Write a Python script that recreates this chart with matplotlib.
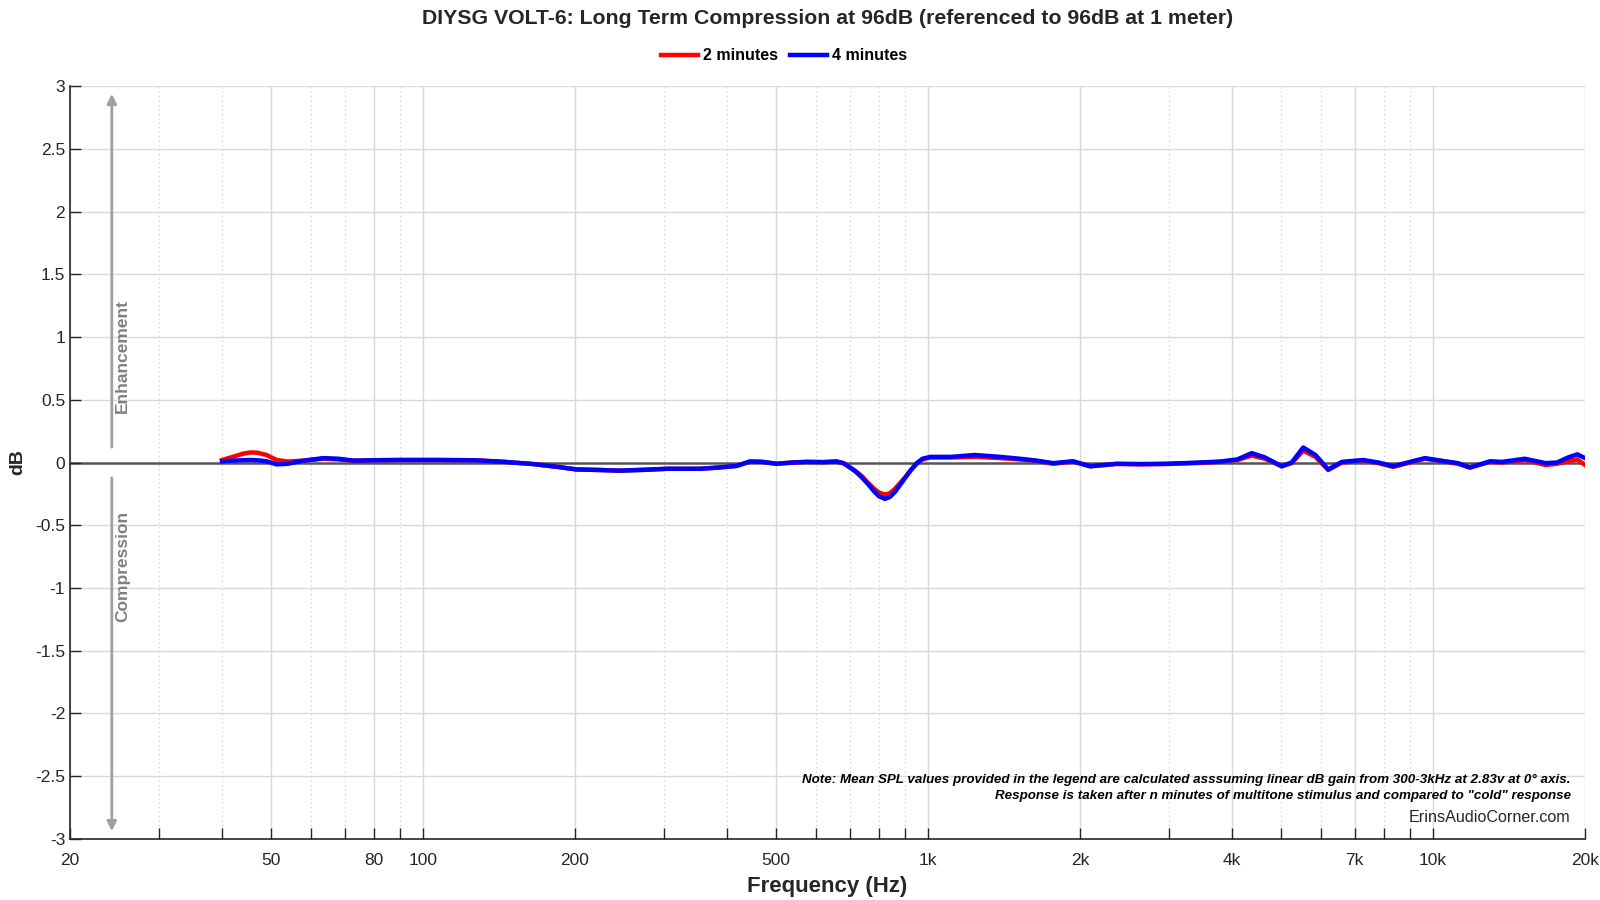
import matplotlib
matplotlib.use("Agg")
import matplotlib.pyplot as plt
from matplotlib.ticker import FixedLocator, NullFormatter

plt.rcParams['font.family'] = ['Liberation Sans', 'DejaVu Sans']

# data
freq = [40, 42, 44, 45.5, 47, 49, 51.3, 54, 58, 63.5, 68, 73, 80, 90, 105, 126,
        145, 165, 185, 201, 225, 245, 275, 304, 330, 354, 385, 418, 444, 470,
        501, 540, 575, 620, 659, 680, 701, 720, 740, 760, 780, 800, 822, 840,
        860, 880, 900, 925, 950, 975, 1010, 1110, 1239, 1389, 1520, 1641, 1770,
        1937, 2093, 2364, 2650, 2970, 3457, 3800, 4100, 4376, 4650, 5016, 5250,
        5534, 5850, 6201, 6600, 7267, 7800, 8340, 9000, 9640, 10470, 11200,
        11830, 12970, 13700, 15200, 16700, 17600, 18500, 19300, 20000]

db_2min = [0.02, 0.045, 0.07, 0.08, 0.078, 0.06, 0.02, 0.008, 0.015, 0.03, 0.025,
           0.013, 0.018, 0.02, 0.02, 0.018, 0.005, -0.012, -0.035, -0.055, -0.06,
           -0.065, -0.058, -0.05, -0.05, -0.05, -0.04, -0.027, 0.008, 0.005,
           -0.01, 0.0, 0.005, 0.003, 0.008, -0.005, -0.04, -0.07, -0.11, -0.16,
           -0.205, -0.24, -0.255, -0.245, -0.21, -0.165, -0.12, -0.06, -0.01,
           0.025, 0.04, 0.04, 0.045, 0.035, 0.025, 0.012, -0.01, 0.008, -0.03,
           -0.012, -0.015, -0.012, -0.003, 0.005, 0.02, 0.055, 0.03, -0.03,
           -0.005, 0.095, 0.045, -0.06, 0.0, 0.015, -0.005, -0.035, 0.0, 0.03,
           0.01, -0.01, -0.04, 0.005, 0.0, 0.02, -0.02, -0.01, 0.01, 0.025, -0.02]

db_4min = [0.01, 0.015, 0.018, 0.02, 0.018, 0.01, -0.015, -0.01, 0.015, 0.035, 0.03,
           0.015, 0.018, 0.02, 0.02, 0.018, 0.005, -0.012, -0.035, -0.055, -0.06,
           -0.065, -0.058, -0.05, -0.05, -0.05, -0.04, -0.027, 0.008, 0.005,
           -0.01, 0.0, 0.005, 0.003, 0.008, -0.005, -0.04, -0.075, -0.12, -0.17,
           -0.225, -0.27, -0.29, -0.275, -0.235, -0.18, -0.125, -0.06, -0.005,
           0.03, 0.045, 0.045, 0.06, 0.045, 0.03, 0.015, -0.005, 0.01, -0.03,
           -0.01, -0.012, -0.01, 0.0, 0.008, 0.025, 0.075, 0.04, -0.03, 0.0,
           0.12, 0.06, -0.055, 0.005, 0.02, 0.0, -0.03, 0.005, 0.035, 0.012,
           -0.005, -0.04, 0.01, 0.005, 0.03, -0.005, 0.0, 0.04, 0.065, 0.035]

major_ticks = [20, 50, 80, 100, 200, 500, 1000, 2000, 4000, 7000, 10000, 20000]
major_labels = ['20', '50', '80', '100', '200', '500', '1k', '2k', '4k', '7k', '10k', '20k']
minor_ticks = [30, 40, 60, 70, 90, 300, 400, 600, 700, 800, 900,
               3000, 5000, 6000, 8000, 9000]
y_ticks = [-3, -2.5, -2, -1.5, -1, -0.5, 0, 0.5, 1, 1.5, 2, 2.5, 3]
y_labels = ['-3', '-2.5', '-2', '-1.5', '-1', '-0.5', '0', '0.5', '1', '1.5', '2', '2.5', '3']


def main():
    fig = plt.figure(figsize=(16, 9), dpi=100)
    ax = fig.add_axes([0.04375, 0.0678, 0.9469, 0.8366])

    ax.set_xscale('log')
    ax.set_xlim(20, 20000)
    ax.set_ylim(-3, 3)

    # grid: solid at labelled ticks, dotted at the rest
    for f in major_ticks:
        ax.axvline(f, color='#d9d9d9', lw=1, zorder=0)
    for f in minor_ticks:
        ax.axvline(f, color='#c8c8c8', lw=0.8, ls=(0, (1, 3)), zorder=0)
    for y in y_ticks:
        if y != 0:
            ax.axhline(y, color='#d9d9d9', lw=1, zorder=0)
    ax.axhline(0, color='#555555', lw=1.8, zorder=1)

    ax.plot(freq, db_2min, color='#ff0000', lw=3.2, label='2 minutes', zorder=3)
    ax.plot(freq, db_4min, color='#0000ff', lw=3.2, label='4 minutes', zorder=4)

    ax.xaxis.set_major_locator(FixedLocator(major_ticks))
    ax.set_xticklabels(major_labels)
    ax.xaxis.set_minor_locator(FixedLocator(minor_ticks))
    ax.xaxis.set_minor_formatter(NullFormatter())
    ax.set_yticks(y_ticks)
    ax.set_yticklabels(y_labels)
    ax.tick_params(which='both', direction='in', length=8, width=1,
                   labelsize=12.5, colors='#262626', top=False, right=False)
    ax.tick_params(axis='x', pad=10)

    for side in ['top', 'right']:
        ax.spines[side].set_visible(False)
    for side in ['left', 'bottom']:
        ax.spines[side].set_color('#262626')
        ax.spines[side].set_linewidth(1.2)

    ax.set_xlabel('Frequency (Hz)', fontsize=16, fontweight='bold', color='#262626', labelpad=6)
    ax.set_ylabel('dB', fontsize=14, fontweight='bold', color='#262626', labelpad=6)

    # enhancement / compression arrows
    ax.annotate('', xy=(24.2, 2.96), xytext=(24.2, 0.1),
                arrowprops=dict(arrowstyle='-|>', color='#a0a0a0', lw=2, mutation_scale=14))
    ax.annotate('', xy=(24.2, -2.96), xytext=(24.2, -0.1),
                arrowprops=dict(arrowstyle='-|>', color='#a0a0a0', lw=2, mutation_scale=14))
    ax.text(25.4, 0.85, 'Enhancement', rotation=90, ha='center', va='center',
            fontsize=12.5, fontweight='bold', color='#808080')
    ax.text(25.4, -0.83, 'Compression', rotation=90, ha='center', va='center',
            fontsize=12.5, fontweight='bold', color='#808080')

    ax.text(0.9905, 0.079, 'Note: Mean SPL values provided in the legend are calculated asssuming linear dB gain from 300-3kHz at 2.83v at 0\u00b0 axis.',
            transform=ax.transAxes, ha='right', va='center', fontsize=9.6,
            fontweight='bold', style='italic', color='black')
    ax.text(0.9905, 0.057, 'Response is taken after n minutes of multitone stimulus and compared to "cold" response',
            transform=ax.transAxes, ha='right', va='center', fontsize=9.6,
            fontweight='bold', style='italic', color='black')
    ax.text(0.9905, 0.028, 'ErinsAudioCorner.com', transform=ax.transAxes,
            ha='right', va='center', fontsize=11.6, color='#262626')

    fig.suptitle('DIYSG VOLT-6: Long Term Compression at 96dB (referenced to 96dB at 1 meter)',
                 x=0.517, y=0.99, fontsize=15.3, fontweight='bold', color='#262626')
    fig.legend(loc='center', bbox_to_anchor=(0.49, 0.938), ncol=2, frameon=False,
               handlelength=2.3, handletextpad=0.3, columnspacing=0.8,
               prop={'weight': 'bold', 'size': 11.5})

    fig.savefig('out.png', dpi=100)


if __name__ == "__main__":
    main()
